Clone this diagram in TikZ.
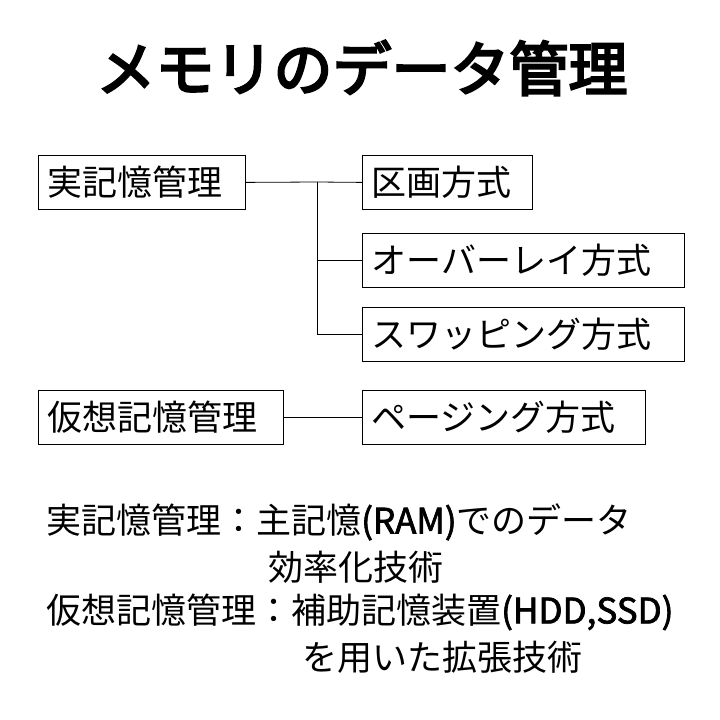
\documentclass[tikz,border=0pt]{standalone}
\usepackage{fontspec}
\setmainfont{Noto Sans CJK JP}
\newfontfamily\titlefont[FakeBold=4]{Noto Sans CJK JP}
\newfontfamily\latbold[FakeBold=2]{Noto Sans CJK JP}
\begin{document}
\begin{tikzpicture}[x=1pt,y=-1pt,
  box/.style={draw,thick,minimum height=54pt,anchor=north west,font=\fontsize{35}{40}\selectfont,inner xsep=9pt,inner ysep=0pt,align=left},
  txt/.style={anchor=west,inner sep=0pt,font=\fontsize{35}{40}\selectfont},
  conn/.style={thick}]
\useasboundingbox (0,0) rectangle (720,720);
\node[font=\titlefont\fontsize{59}{66}\selectfont] (title) at (362,68) {メモリのデータ管理};
\node[box,text width=189pt] (r) at (38,155) {実記憶管理};
\node[box,text width=152pt] (a) at (362,155) {区画方式};
\node[box,text width=304pt] (b) at (362,233) {オーバーレイ方式};
\node[box,text width=304pt] (c) at (362,307) {スワッピング方式};
\node[box,text width=227pt] (v) at (38,390) {仮想記憶管理};
\node[box,text width=265pt] (p) at (362,390) {ページング方式};
\coordinate (j) at (317,182);
\draw[conn] (r.east) -- (j) -- (a.west);
\draw[conn] (j) |- (b.west);
\draw[conn] (j) |- (c.west);
\draw[conn] (v.east) -- (p.west);
\node[txt] (t1) at (46,522) {実記憶管理：主記憶{\latbold(RAM)}でのデータ};
\node[txt] (t2) at (268,567) {効率化技術};
\node[txt] (t3) at (46,612) {仮想記憶管理：補助記憶装置{\latbold(HDD,SSD)}};
\node[txt] (t4) at (302,657) {を用いた拡張技術};
\end{tikzpicture}
\end{document}
